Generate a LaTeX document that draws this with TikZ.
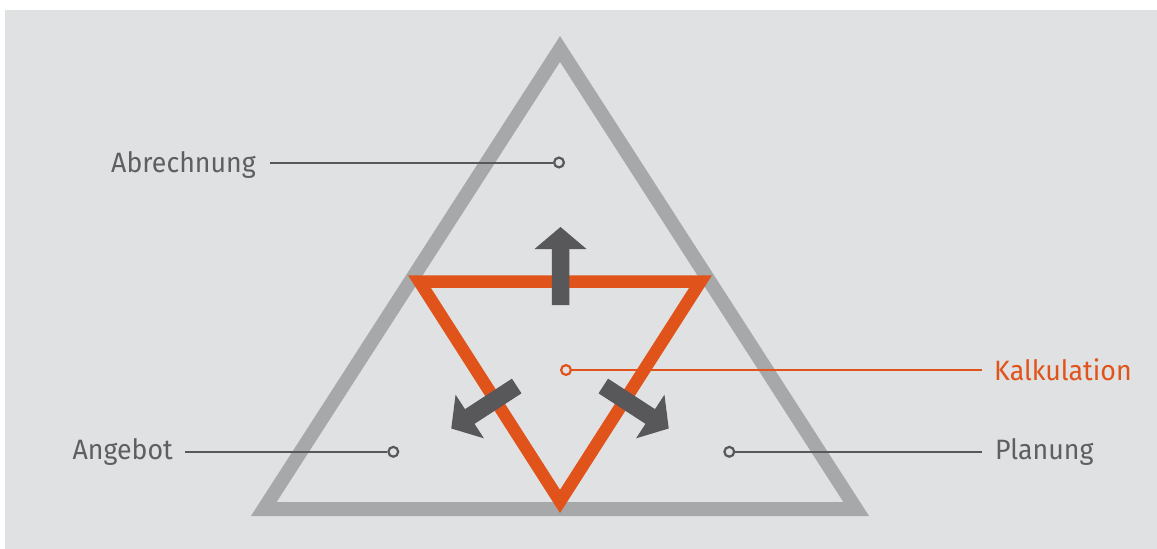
\documentclass[tikz,border=0pt]{standalone}
\usepackage{fontspec}
\setmainfont{Fira Sans}[FakeStretch=0.955]
\definecolor{bg}{HTML}{E0E1E3}
\definecolor{tri}{HTML}{A7A8AA}
\definecolor{dark}{HTML}{58585A}
\definecolor{txt}{HTML}{5E5F61}
\definecolor{orng}{HTML}{E0531A}
\tikzset{
  lbl/.style={inner sep=0pt, font=\fontsize{28}{30}\selectfont, text=txt},
  dot/.style={circle, draw=dark, fill=bg, line width=2.2pt, minimum size=9.8pt, inner sep=0pt},
  leader/.style={draw=dark, line width=2pt},
}
\begin{document}
\begin{tikzpicture}[x=1pt,y=-1pt]
\useasboundingbox (0,0) rectangle (1157,549);
\fill[bg] (5,10) rectangle (1157,549);
% outer gray triangle
\coordinate (gA) at (560,49);
\coordinate (gL) at (263.8,509);
\coordinate (gR) at (856.2,509);
\draw[tri, line width=14pt, line join=miter] (gA) -- (gL) -- (gR) -- cycle;
% orange triangle
\coordinate (oL) at (419.4,281.5);
\coordinate (oR) at (700.6,281.5);
\coordinate (oB) at (560,501.4);
\draw[orng, line width=12.5pt, line join=miter] (oL) -- (oR) -- (oB) -- cycle;
% arrows
\foreach \px/\py/\ang in {560.5/305/90, 516.7/386/213, 603.3/386/327}{
  \begin{scope}[shift={(\px,\py)}, rotate=\ang]
    \fill[dark] (0,-8.75) -- (56,-8.75) -- (56,-26) -- (78,0) -- (56,26) -- (56,8.75) -- (0,8.75) -- cycle;
  \end{scope}
}
% labels and leaders
\node[dot] (abr) at (559,162.5) {};
\coordinate (abrS) at (270,162.5);
\node[lbl, anchor=base east] (tabr) at (256,172.5) {Abrechnung};
\draw[leader] (abrS) -- (abr);

\node[dot] (ang) at (393.3,451.8) {};
\coordinate (angS) at (185,451.8);
\node[lbl, anchor=base east] (tang) at (173,459) {Angebot};
\draw[leader] (angS) -- (ang);

\node[dot] (pla) at (729.3,451.8) {};
\coordinate (plaE) at (982,451.8);
\node[lbl, anchor=base west] (tpla) at (995,459) {Planung};
\draw[leader] (pla) -- (plaE);

\node[dot, draw=orng] (kal) at (566,370) {};
\coordinate (kalE) at (982,370);
\node[lbl, anchor=base west, text=orng] (tkal) at (994,380) {Kalkulation};
\draw[leader, draw=orng] (kal) -- (kalE);
\end{tikzpicture}
\end{document}
